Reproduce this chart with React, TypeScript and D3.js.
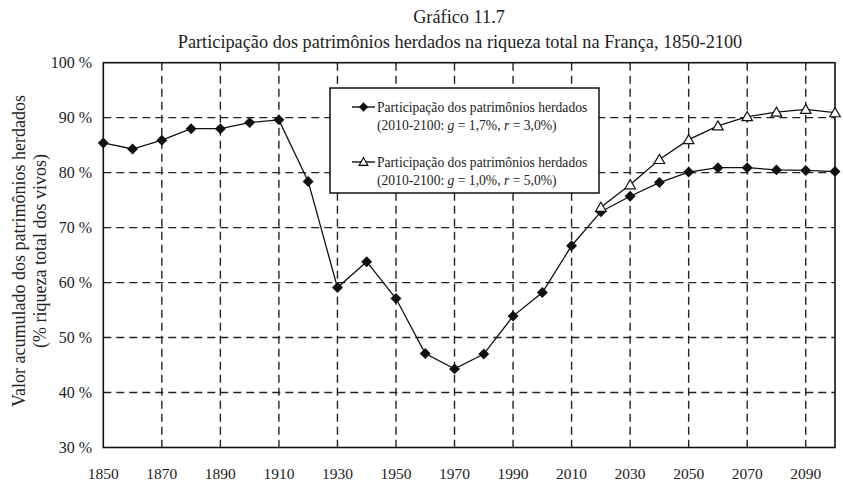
import React from 'react';
import * as d3 from 'd3';

const years: number[] = [1850, 1860, 1870, 1880, 1890, 1900, 1910, 1920, 1930, 1940, 1950, 1960, 1970, 1980, 1990, 2000, 2010, 2020, 2030, 2040, 2050, 2060, 2070, 2080, 2090, 2100];
const seriesA: number[] = [85.4, 84.3, 85.9, 88.0, 88.0, 89.1, 89.6, 78.4, 59.1, 63.8, 57.1, 47.1, 44.3, 47.0, 53.9, 58.2, 66.7, 72.9, 75.7, 78.2, 80.1, 80.9, 80.9, 80.5, 80.4, 80.2];
const yearsB: number[] = [2020, 2030, 2040, 2050, 2060, 2070, 2080, 2090, 2100];
const seriesB: number[] = [73.7, 77.8, 82.4, 86.0, 88.5, 90.2, 91.0, 91.5, 90.9];

const yTicks: number[] = [30, 40, 50, 60, 70, 80, 90, 100];
const xTicks: number[] = [1850, 1870, 1890, 1910, 1930, 1950, 1970, 1990, 2010, 2030, 2050, 2070, 2090];
const xGrid: number[] = [1870, 1890, 1910, 1930, 1950, 1970, 1990, 2010, 2030, 2050, 2070, 2090];
const yGrid: number[] = [40, 50, 60, 70, 80, 90];

const title1 = 'Gráfico 11.7';
const title2 = 'Participação dos patrimônios herdados na riqueza total na França, 1850-2100';
const yTitle1 = 'Valor acumulado dos patrimônios herdados';
const yTitle2 = '(% riqueza total dos vivos)';
const legendA = ['Participação dos patrimônios herdados', '(2010-2100: ', 'g', ' = 1,7%, ', 'r', ' = 3,0%)'];
const legendB = ['Participação dos patrimônios herdados', '(2010-2100: ', 'g', ' = 1,0%, ', 'r', ' = 5,0%)'];

const FONT = 'Liberation Serif, serif';
const ts = (size: number): React.CSSProperties => ({ fontFamily: FONT, fontSize: size });

export default function App() {
  const W = 843, H = 495;
  const x = d3.scaleLinear().domain([1850, 2100]).range([103.3, 835]);
  const y = d3.scaleLinear().domain([30, 100]).range([447.5, 62.7]);

  const line = d3.line<[number, number]>().x(d => x(d[0])).y(d => y(d[1]));
  const dataA: [number, number][] = years.map((yr, i) => [yr, seriesA[i]]);
  const dataB: [number, number][] = yearsB.map((yr, i) => [yr, seriesB[i]]);

  const diamond = d3.symbol().type(d3.symbolSquare).size(60)() as string;
  const tri = d3.symbol().type(d3.symbolTriangle).size(48)() as string;

  const legX = 330, legY = 88, legW = 269, legH = 105;

  const legendEntry = (parts: string[], cy: number, kind: 'A' | 'B') => (
    <g>
      <line x1={352} x2={375} y1={cy} y2={cy} stroke="#000" strokeWidth={1.3} />
      {kind === 'A' ? (
        <path d={diamond} transform={`translate(363.5,${cy}) rotate(45) scale(0.85)`} fill="#111" />
      ) : (
        <path d={tri} transform={`translate(363.5,${cy + 0.8}) scale(0.85)`} fill="#fff" stroke="#000" strokeWidth={1.2} />
      )}
      <text x={377} y={cy + 5} style={ts(13.6)} fill="#222">{parts[0]}</text>
      <text x={377} y={cy + 23} style={ts(13.6)} fill="#222">
        {parts[1]}<tspan fontStyle="italic">{parts[2]}</tspan>{parts[3]}<tspan fontStyle="italic">{parts[4]}</tspan>{parts[5]}
      </text>
    </g>
  );

  return (
    <svg width={W} height={H} style={{ position: 'absolute', left: 0, top: 0, background: '#fff', fontFamily: FONT }}>
      <rect x={0} y={0} width={W} height={H} fill="#fff" />
      <text x={459} y={23} textAnchor="middle" style={ts(18.3)} fill="#222">{title1}</text>
      <text x={460} y={48} textAnchor="middle" style={ts(18.3)} fill="#222">{title2}</text>

      {/* grid */}
      {yGrid.map(v => (
        <line key={'hy' + v} x1={x(1850)} x2={x(2100)} y1={y(v)} y2={y(v)} stroke="#222" strokeWidth={1.4} strokeDasharray="8,5" />
      ))}
      {xGrid.map(v => (
        <line key={'vx' + v} x1={x(v)} x2={x(v)} y1={y(100)} y2={y(30)} stroke="#222" strokeWidth={1.4} strokeDasharray="8,5" />
      ))}
      <rect x={x(1850)} y={y(100)} width={x(2100) - x(1850)} height={y(30) - y(100)} fill="none" stroke="#111" strokeWidth={1.6} />

      {/* y tick labels */}
      {yTicks.map(v => (
        <text key={'yt' + v} x={92} y={y(v) + 5} textAnchor="end" style={ts(16)} fill="#222">{`${v} %`}</text>
      ))}
      {/* x tick labels */}
      {xTicks.map(v => (
        <text key={'xt' + v} x={x(v)} y={479} textAnchor="middle" style={ts(15.5)} fill="#222">{v}</text>
      ))}

      {/* y title */}
      <text transform="translate(25,251) rotate(-90)" textAnchor="middle" style={ts(18)} fill="#222">{yTitle1}</text>
      <text transform="translate(46,251) rotate(-90)" textAnchor="middle" style={ts(18)} fill="#222">{yTitle2}</text>

      {/* legend */}
      <rect x={legX} y={legY} width={legW} height={legH} fill="#fff" stroke="#111" strokeWidth={1.5} />
      {legendEntry(legendA, 107, 'A')}
      {legendEntry(legendB, 162, 'B')}

      {/* series */}
      <path d={line(dataA) as string} fill="none" stroke="#111" strokeWidth={1.3} />
      <path d={line(dataB) as string} fill="none" stroke="#111" strokeWidth={1.3} />
      {dataA.map(d => (
        <path key={'a' + d[0]} d={diamond} transform={`translate(${x(d[0])},${y(d[1])}) rotate(45)`} fill="#111" />
      ))}
      {dataB.map(d => (
        <path key={'b' + d[0]} d={tri} transform={`translate(${x(d[0])},${y(d[1]) + 1})`} fill="#fff" stroke="#111" strokeWidth={1.2} />
      ))}
    </svg>
  );
}
